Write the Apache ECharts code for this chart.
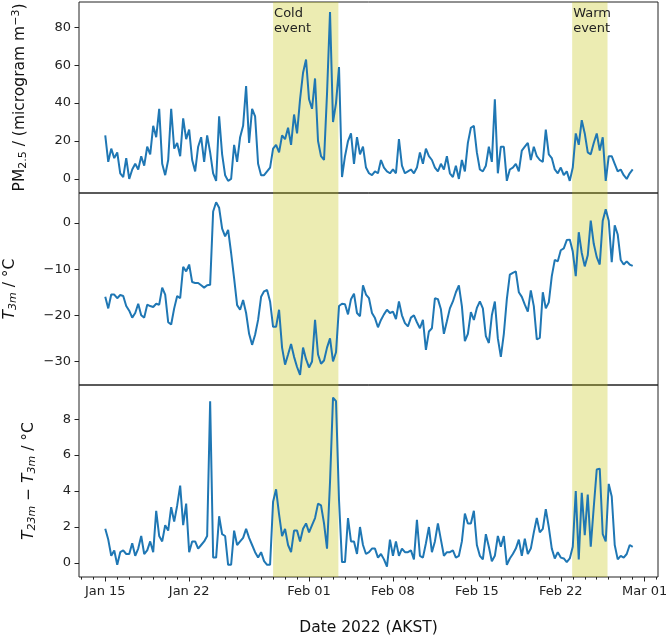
<!DOCTYPE html>
<html><head><meta charset="utf-8">
<script src="https://cdn.jsdelivr.net/npm/echarts@6/dist/echarts.min.js"></script>
<style>html,body{margin:0;padding:0;background:#fff}#chart{width:666px;height:641px}</style>
</head><body><div id="chart"></div>
<script>
// time step between samples (hours), first sample = Jan 15 2022 00:00 AKST (day 0)
const stepHours = 6;

const pm25 = [
 23, 9, 16, 11, 14, 3, 1, 11, 0, 5,
 8, 5, 12, 7, 17, 13, 28, 22, 37, 8,
 2, 10, 37, 16, 19, 12, 32, 21, 26, 10,
 4, 17, 22, 9, 23, 14, 3, -1, 33, 13,
 2, -1, 0, 18, 9, 22, 28, 49, 19, 37,
 33, 8, 2, 2, 4, 6, 16, 18, 14, 23,
 21, 27, 18, 34, 24, 42, 56, 63, 42, 37,
 53, 20, 12, 10, 45, 88, 30, 40, 59, 1,
 12, 20, 24, 8, 22, 13, 17, 6, 3, 2,
 4, 3, 10, 6, 4, 3, 5, 3, 21, 7,
 3, 4, 5, 3, 6, 14, 8, 16, 12, 10,
 6, 4, 8, 5, 12, 3, 1, 7, 0, 10,
 4, 19, 27, 28, 14, 5, 4, 7, 17, 9,
 42, 3, 17, 17, -1, 5, 6, 8, 4, 15,
 17, 19, 10, 17, 12, 10, 9, 26, 13, 11,
 5, 3, 6, 2, 4, -1, 6, 24, 18, 31,
 24, 14, 13, 19, 24, 15, 22, -1, 12, 12,
 8, 4, 5, 2, 0, 3, 5
];

const t3m = [
 -16, -18.5, -15.5, -15.5, -16.3, -15.6, -15.8, -18, -19, -20.5,
 -19.5, -17.5, -20, -20.5, -17.7, -18, -18.2, -17.5, -17.7, -14,
 -15.5, -21.5, -22, -18.5, -15.8, -16.3, -9.5, -10.5, -9, -12.8,
 -13, -13, -13.5, -14, -13.5, -13.4, 2.5, 4.5, 3.3, -1.2,
 -2.9, -1.5, -6.5, -12, -17.8, -18.8, -16.7, -19.5, -24, -26.4,
 -24.2, -21, -16, -14.8, -14.5, -17, -22.5, -22.5, -18.8, -27,
 -30.7, -28.5, -26.2, -29, -31.2, -32.9, -27, -29.5, -31.3, -30,
 -21, -28.5, -30.5, -29.8, -27, -25, -30, -28, -18, -17.5,
 -17.6, -19.8, -16.5, -15.3, -19.5, -20.2, -13.5, -15.5, -16.3, -19.5,
 -20.6, -22.6, -21, -19.8, -18.8, -19.5, -19.2, -20.8, -17, -20,
 -21.7, -22.4, -20.5, -20, -21.5, -22.8, -21, -27.5, -23.5, -22.8,
 -16.3, -16.5, -18.7, -24, -21.3, -18.5, -17, -15, -13.5, -18,
 -25.6, -24, -19.3, -21, -18.4, -17, -18.5, -24.5, -26, -20,
 -17, -25, -29, -24, -16.5, -11.2, -10.8, -10.5, -15, -16,
 -17.7, -19.2, -14.6, -18, -25.2, -24.9, -15, -18.5, -17.2, -11.5,
 -8, -8.3, -5.9, -5.5, -3.7, -3.6, -6.2, -11.5, -2, -6.5,
 -9.4, -7, 0.5, -4.5, -7.4, -9, 0.5, 3, 0.5, -8.5,
 -0.5, -2.5, -8, -9, -8.3, -9, -9.3
];

const dT = [
 1.9, 1.3, 0.4, 0.7, -0.1, 0.6, 0.7, 0.5, 0.5, 1.1,
 0.4, 0.8, 1.5, 0.5, 0.7, 1.2, 0.6, 2.9, 1.5, 1.2,
 2.1, 1.8, 3.1, 2.3, 3.2, 4.3, 2.1, 3.3, 0.6, 1.2,
 1.2, 0.8, 1.0, 1.2, 1.5, 9.0, 0.3, 0.3, 2.6, 1.6,
 1.5, -0.1, -0.1, 1.8, 1.0, 1.2, 1.4, 1.9, 1.4, 1.0,
 0.6, 0.3, 0.6, 0.1, -0.1, -0.1, 3.4, 4.1, 2.7, 1.5,
 1.9, 1.0, 0.6, 1.8, 1.8, 1.2, 1.9, 2.2, 1.7, 2.1,
 2.5, 3.3, 3.2, 2.2, 0.8, 4.5, 9.2, 9.0, 3.5, 0.05,
 0.05, 2.5, 1.2, 1.2, 0.5, 2.0, 1.0, 0.5, 0.6, 0.8,
 0.8, 0.3, 0.5, 0.2, -0.2, 1.3, 0.4, 1.2, 0.4, 0.8,
 0.6, 0.6, 0.7, 0.2, 2.4, 0.4, 0.3, 1.1, 2.0, 0.6,
 1.2, 2.2, 1.3, 0.4, 0.6, 0.6, 0.7, 0.3, 0.4, 1.2,
 2.75, 2.2, 2.2, 2.9, 1.0, 0.4, 0.2, 1.6, 0.9, 0.1,
 0.4, 1.5, 0.9, 1.5, -0.1, 0.25, 0.5, 0.8, 1.3, 0.4,
 1.35, 0.5, 0.8, 1.7, 2.5, 1.7, 1.9, 3.0, 2.0, 0.8,
 0.25, 0.6, 0.3, 0.25, 0.05, 0.25, 0.9, 4.0, 0.2, 3.9,
 1.55, 3.8, 0.9, 3.1, 5.2, 5.25, 1.6, 1.2, 4.4, 3.7,
 1.0, 0.2, 0.4, 0.3, 0.5, 1.0, 0.9
];

// x ticks: days since Jan 15 2022
const xTickDays = [0, 7, 17, 24, 31, 38, 45];
const xTickLabels = ['Jan 15', 'Jan 22', 'Feb 01', 'Feb 08', 'Feb 15', 'Feb 22', 'Mar 01'];
const pmTicks = [0, 20, 40, 60, 80];
const t3mTicks = [-30, -20, -10, 0];
const dTTicks = [0, 2, 4, 6, 8];

// shaded events (days since Jan 15 2022)
const eventNames = ['Cold\nevent', 'Warm\nevent'];
const eventStart = [14.0, 38.95];
const eventEnd = [19.45, 41.9];

const xMin = -2.19, xMax = 46.11;
const font = 'DejaVu Sans';
const ink = '#222';
const lineColor = '#1f77b4';

const toXY = arr => arr.map((v, i) => [i * stepHours / 24, v]);
const minusFmt = v => String(v).replace('-', '\u2212');

const rich = {
  sub: {fontSize: 11, fontFamily: font, color: '#111', padding: [7, 0, 0, 0]},
  sup: {fontSize: 11, fontFamily: font, color: '#111', padding: [0, 0, 7, 0]},
  it: {fontSize: 15.5, fontFamily: font, fontStyle: 'italic', color: '#111'},
  itsub: {fontSize: 11, fontFamily: font, fontStyle: 'italic', color: '#111', padding: [7, 0, 0, 0]}
};

const L = 79, R = 8;
const gridBase = {left: L, right: R, containLabel: false, outerBoundsMode: 'none'};
const grids = [
  Object.assign({top: 2, height: 191, show: true, borderColor: ink, borderWidth: 1}, gridBase),
  Object.assign({top: 193, height: 192, show: true, borderColor: ink, borderWidth: 1}, gridBase),
  Object.assign({top: 385, height: 192, show: true, borderColor: ink, borderWidth: 1}, gridBase),
  Object.assign({top: 385, height: 192, show: false}, gridBase)
];

function xHidden(gi) {
  return {type: 'value', gridIndex: gi, min: xMin, max: xMax,
    axisLine: {show: false, onZero: false}, axisTick: {show: false}, axisLabel: {show: false}, splitLine: {show: false}};
}
const minorDays = [];
for (let d = Math.ceil(xMin); d <= Math.floor(xMax); d++) minorDays.push(d);

function yCfg(gi, min, max, ticks, name, gap) {
  return {type: 'value', gridIndex: gi, min, max, position: 'left',
    axisLine: {show: false, onZero: false}, splitLine: {show: false},
    axisTick: {show: true, inside: false, length: 4.5, lineStyle: {color: ink, width: 1}, customValues: ticks},
    axisLabel: {show: true, margin: 8, fontSize: 13, fontFamily: font, color: ink, customValues: ticks, formatter: minusFmt},
    name, nameLocation: 'middle', nameRotate: 90, nameGap: gap,
    nameTextStyle: {fontSize: 15.5, fontFamily: font, color: '#111', rich}
  };
}

function spans(withLabel) {
  return {
    silent: true,
    itemStyle: {color: 'rgba(191,191,0,0.3)'},
    label: withLabel ? {show: true, position: [1, 4.5], fontSize: 13, lineHeight: 14.5, fontFamily: font, color: ink, align: 'left'} : {show: false},
    data: eventNames.map((n, k) => [{name: withLabel ? n : '', xAxis: eventStart[k]}, {xAxis: eventEnd[k]}])
  };
}

function lineSeries(gi, arr, withLabel) {
  return {type: 'line', xAxisIndex: gi, yAxisIndex: gi, data: toXY(arr), showSymbol: false, symbol: 'none',
    lineStyle: {color: lineColor, width: 2}, itemStyle: {color: lineColor}, animation: false,
    markArea: spans(withLabel)};
}

const bottomX = {type: 'value', gridIndex: 2, min: xMin, max: xMax, position: 'bottom',
  axisLine: {show: false, onZero: false}, splitLine: {show: false},
  axisTick: {show: true, inside: false, length: 4.5, lineStyle: {color: ink, width: 1}, customValues: xTickDays},
  axisLabel: {show: true, margin: 8, fontSize: 13, fontFamily: font, color: ink, customValues: xTickDays,
    formatter: v => xTickLabels[xTickDays.indexOf(Math.round(v))] || ''},
  name: 'Date 2022 (AKST)', nameLocation: 'middle', nameGap: 43,
  nameTextStyle: {fontSize: 15.5, fontFamily: font, color: '#111'}
};
const minorX = {type: 'value', gridIndex: 3, min: xMin, max: xMax, position: 'bottom',
  axisLine: {show: false, onZero: false}, splitLine: {show: false}, axisLabel: {show: false},
  axisTick: {show: true, inside: false, length: 2.6, lineStyle: {color: ink, width: 1}, customValues: minorDays}
};

const option = {
  animation: false,
  backgroundColor: '#fff',
  grid: grids,
  xAxis: [xHidden(0), xHidden(1), bottomX, minorX],
  yAxis: [
    yCfg(0, -7.4, 93.3, pmTicks, 'PM{sub|2.5} / (microgram m{sup|\u22123})', 50),
    yCfg(1, -35.1, 6.5, t3mTicks, '{it|T}{itsub|3m} / °C', 60),
    yCfg(2, -0.78, 9.9, dTTicks, '{it|T}{itsub|23m} \u2212 {it|T}{itsub|3m} / °C', 41),
    {type: 'value', gridIndex: 3, min: 0, max: 1, show: false}
  ],
  series: [
    lineSeries(0, pm25, true),
    lineSeries(1, t3m, false),
    lineSeries(2, dT, false)
  ]
};

const chart = echarts.init(document.getElementById('chart'), null, {renderer: 'canvas'});
chart.setOption(option);
</script>
</body></html>
